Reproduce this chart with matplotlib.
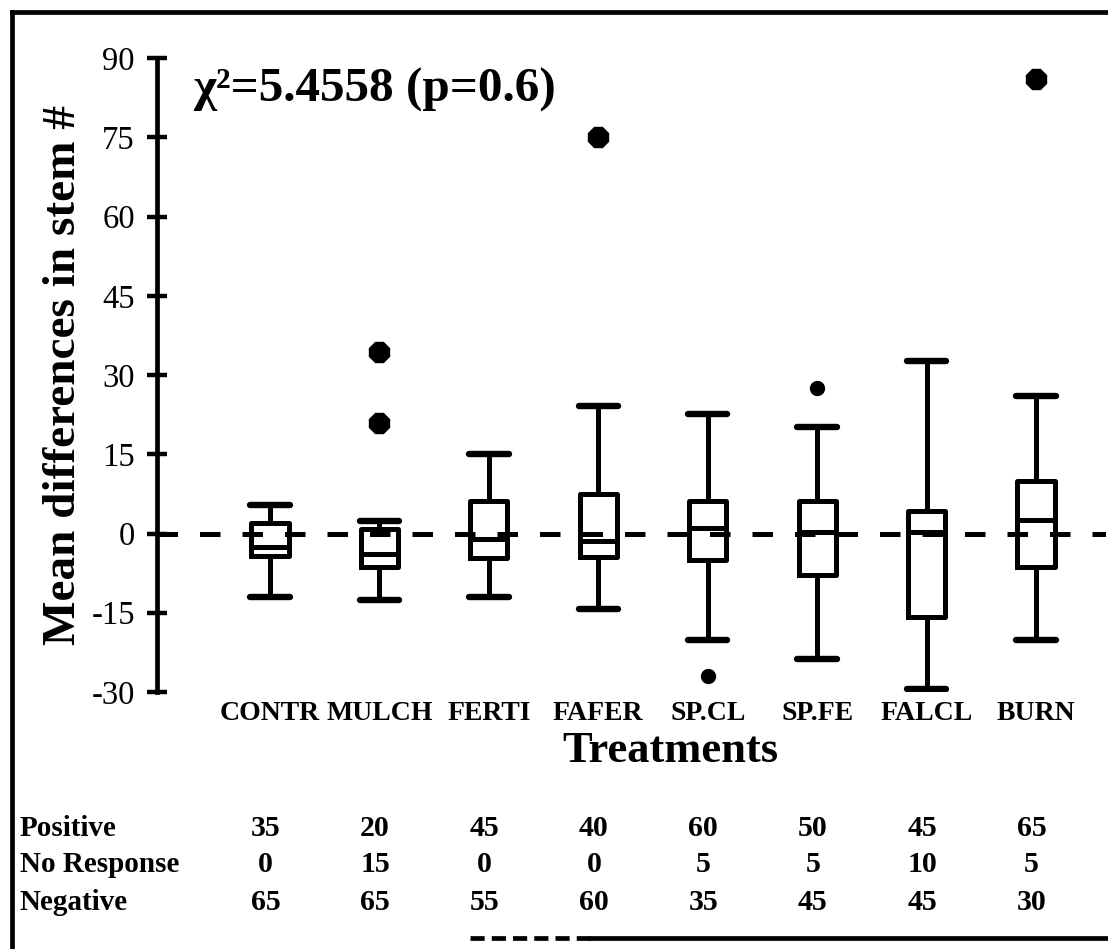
import numpy as np
import matplotlib.pyplot as plt
from matplotlib.lines import Line2D
from matplotlib import transforms

plt.rcParams['font.family'] = ['Liberation Serif', 'DejaVu Serif']

# boxplot summary per treatment
treatments = ['CONTR', 'MULCH', 'FERTI', 'FAFER', 'SP.CL', 'SP.FE', 'FALCL', 'BURN']
whisker_low = [-12.0, -12.5, -12.0, -14.2, -20.2, -23.7, -29.4, -20.1]
q1 = [-4.2, -6.3, -4.6, -4.4, -5.0, -7.8, -15.8, -6.3]
median = [-2.5, -3.8, -1.0, -1.5, 1.0, 0.3, 0.3, 2.6]
q3 = [1.9, 0.8, 6.1, 7.4, 6.1, 6.1, 4.2, 10.0]
whisker_high = [5.3, 2.3, 15.0, 24.1, 22.6, 20.1, 32.6, 26.0]

# outliers: mild (dots) and extreme (blobs)
mild_name = ['SP.CL', 'SP.FE']
mild_val = [-27.0, 27.5]
extreme_name = ['MULCH', 'MULCH', 'FAFER', 'BURN']
extreme_val = [34.4, 20.9, 75.0, 86.0]

# response table (%)
row_labels = ['Positive', 'No Response', 'Negative']
positive = [35, 20, 45, 40, 60, 50, 45, 65]
no_response = [0, 15, 0, 0, 5, 5, 10, 5]
negative = [65, 65, 55, 60, 35, 45, 45, 30]

yticks = [-30, -15, 0, 15, 30, 45, 60, 75, 90]

W, H = 1108, 949
fig = plt.figure(figsize=(W / 100, H / 100), dpi=100)
ax = fig.add_axes([157 / W, 1 - 692 / H, (1106 - 157) / W, (692 - 58) / H])

pos = np.arange(1, len(treatments) + 1)
stats = []
for i in range(len(treatments)):
    stats.append(dict(med=median[i], q1=q1[i], q3=q3[i],
                      whislo=whisker_low[i], whishi=whisker_high[i], fliers=[]))

lw = 3.6
ax.axhline(0, color='k', lw=lw, dashes=(4.1, 4.4), zorder=1)
ax.bxp(stats, positions=pos, widths=0.34, capwidths=0.36, showfliers=False,
       boxprops=dict(color='k', lw=lw),
       medianprops=dict(color='k', lw=lw),
       whiskerprops=dict(color='k', lw=lw),
       capprops=dict(color='k', lw=lw + 1, solid_capstyle='round'))

idx = {t: i + 1 for i, t in enumerate(treatments)}
ax.plot([idx[n] for n in mild_name], mild_val, 'o', color='k', ms=10, zorder=3)
ax.plot([idx[n] for n in extreme_name], extreme_val, '8', color='k', ms=15, zorder=3)

ax.set_xlim(-0.033, 8.64)
ax.set_ylim(-30, 90)
ax.set_yticks(yticks)
ax.set_yticklabels([str(v) for v in yticks], fontsize=23.5)
ax.tick_params(axis='y', direction='inout', length=14, width=3.2, pad=9)
ax.set_xticks([])
for s in ['top', 'right', 'bottom']:
    ax.spines[s].set_visible(False)
ax.spines['left'].set_linewidth(3.4)

ax.text(0.038, 0.95, 'χ²=5.4558 (p=0.6)', transform=ax.transAxes,
        fontsize=35.5, fontweight='bold', va='center', ha='left')

# category labels under boxes
trans_x = transforms.blended_transform_factory(ax.transData, ax.transAxes)
for p, t in zip(pos, treatments):
    ax.text(p, -0.0347, t, transform=trans_x, ha='center', va='center',
            fontsize=20, fontweight='bold')

fig.text(670 / W, 1 - 751 / H, 'Treatments', ha='center', va='center',
         fontsize=32, fontweight='bold')
fig.text(64 / W, 1 - 375 / H, 'Mean differences in stem #', rotation=90,
         ha='center', va='center', fontsize=34, fontweight='bold')

# table below
trans_f = transforms.blended_transform_factory(ax.transData, fig.transFigure)
row_y = [1 - 828 / H, 1 - 865 / H, 1 - 903 / H]
for lab, vals, yy in zip(row_labels, [positive, no_response, negative], row_y):
    fig.text(20 / W, yy, lab, ha='left', va='center', fontsize=21, fontweight='bold')
    for p, v in zip(pos, vals):
        ax.text(p - 0.04, yy, str(v), transform=trans_f, ha='center', va='center',
                fontsize=21.5, fontweight='bold', clip_on=False)

# frame: left and top edges, bottom edge only partly visible in the scan
def fig_line(x0, y0, x1, y1, **kw):
    fig.lines.append(Line2D([x0 / W, x1 / W], [1 - y0 / H, 1 - y1 / H],
                            transform=fig.transFigure, color='k', lw=3.4, **kw))

fig_line(12, 12, 12, H)
fig_line(12, 12, W, 12)
fig_line(470, 938, 590, 938, dashes=(3, 1.5))
fig_line(590, 938, W, 938)

fig.savefig('out.png', dpi=100)
